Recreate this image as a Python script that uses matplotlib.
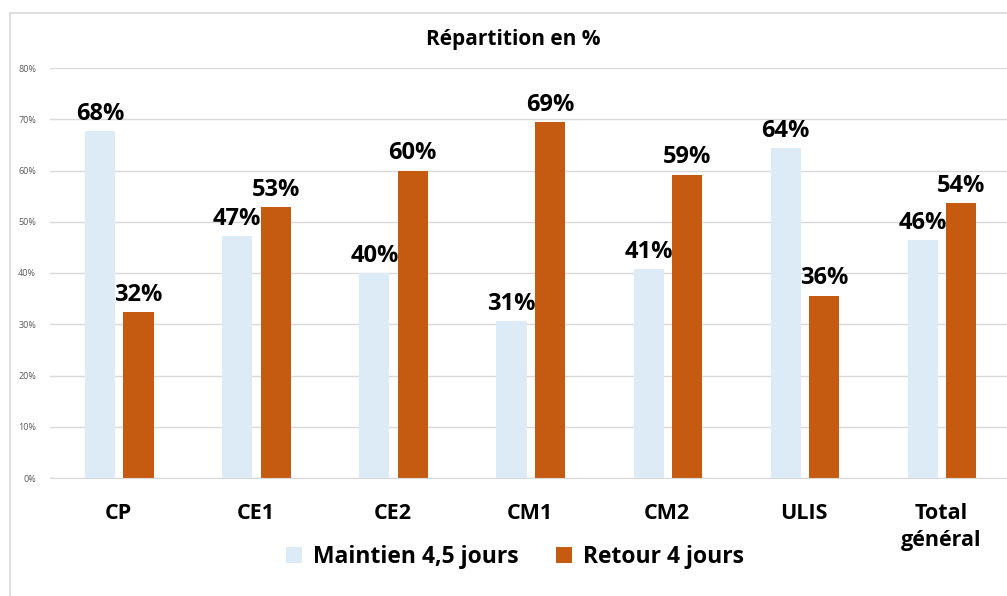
import matplotlib
matplotlib.use("Agg")
import matplotlib.pyplot as plt
import numpy as np
from matplotlib.patches import Rectangle

categories = ["CP", "CE1", "CE2", "CM1", "CM2", "ULIS", "Total\ngénéral"]
maintien = [67.7, 47.2, 40.0, 30.6, 40.8, 64.4, 46.4]
retour = [32.3, 52.8, 60.0, 69.4, 59.2, 35.6, 53.6]
maintien_labels = ["68%", "47%", "40%", "31%", "41%", "64%", "46%"]
retour_labels = ["32%", "53%", "60%", "69%", "59%", "36%", "54%"]
yticks = [0, 10, 20, 30, 40, 50, 60, 70, 80]

blue = "#DDEBF7"
orange = "#C55A11"
grid = "#D9D9D9"

plt.rcParams['font.family'] = ['Open Sans', 'DejaVu Sans']

fig = plt.figure(figsize=(10.07, 5.96), dpi=100)
# cadre du graphique
fig.patches.append(Rectangle((10/1007, -0.1), 1.2, 1 - 13/596 + 0.1, transform=fig.transFigure,
                             fill=False, edgecolor=grid, linewidth=1.2))

ax = fig.add_axes([50/1007, 1 - 478/596, 960/1007, 410/596])
x = np.arange(len(categories))
w = 0.22
ax.bar(x - 0.135, maintien, w, color=blue, zorder=2, label="Maintien 4,5 jours")
ax.bar(x + 0.145, retour, w, color=orange, zorder=2, label="Retour 4 jours")

for i in range(len(categories)):
    ax.text(x[i] - 0.135, maintien[i] + 1.0, maintien_labels[i], ha="center", va="bottom",
            fontsize=17, fontweight="bold", color="black")
    ax.text(x[i] + 0.145, retour[i] + 1.0, retour_labels[i], ha="center", va="bottom",
            fontsize=17, fontweight="bold", color="black")

ax.set_xlim(-0.5, len(categories) - 0.5)
ax.set_ylim(0, 80)
ax.set_yticks(yticks)
ax.set_yticklabels([f"{v}%" for v in yticks], fontsize=6.5, color="#595959")
ax.set_xticks(x)
ax.set_xticklabels(categories, fontsize=15.5, fontweight="bold", va="top", linespacing=1.35)
ax.tick_params(axis="x", length=0, pad=18)
ax.tick_params(axis="y", length=0, pad=10)
ax.grid(axis="y", color=grid, linewidth=1, zorder=0)
for s in ["top", "right", "left"]:
    ax.spines[s].set_visible(False)
ax.spines["bottom"].set_color(grid)

fig.text(513/1007, 1 - 40/596, "Répartition en %", ha="center", va="center",
         fontsize=15, fontweight="bold")

ax.legend(loc="center", bbox_to_anchor=(515/1007, 1 - 557/596), bbox_transform=fig.transFigure,
          ncol=2, frameon=False, prop={"size": 16.5, "weight": "bold"},
          handlelength=0.7, handleheight=0.7, handletextpad=0.5, columnspacing=1.6)

fig.savefig("out.png", dpi=100)
